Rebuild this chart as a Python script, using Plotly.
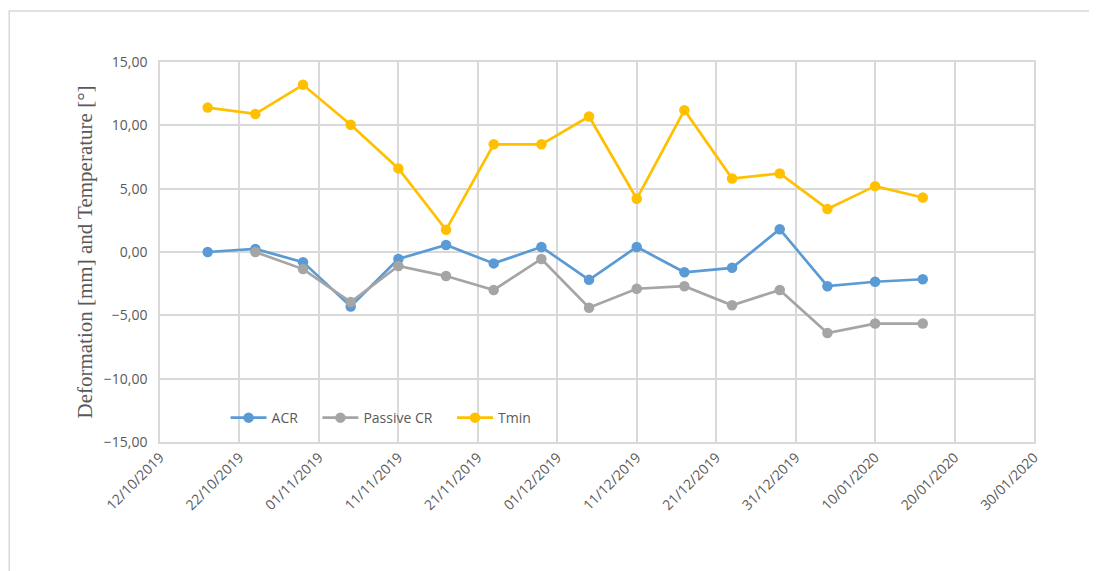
import plotly.graph_objects as go
import pandas as pd

# Measurement dates (every 6 days)
dates = pd.to_datetime([
    '2019-10-18', '2019-10-24', '2019-10-30', '2019-11-05', '2019-11-11', '2019-11-17',
    '2019-11-23', '2019-11-29', '2019-12-05', '2019-12-11', '2019-12-17', '2019-12-23',
    '2019-12-29', '2020-01-04', '2020-01-10', '2020-01-16'
])

acr = [0.0, 0.24, -0.8, -4.3, -0.55, 0.55, -0.9, 0.4, -2.2, 0.4, -1.6, -1.25, 1.8, -2.7, -2.35, -2.15]
passive_cr = [None, 0.0, -1.35, -3.95, -1.1, -1.9, -3.0, -0.55, -4.4, -2.9, -2.7, -4.2, -3.0, -6.4, -5.65, -5.65]
tmin = [11.4, 10.9, 13.2, 10.05, 6.6, 1.75, 8.5, 8.5, 10.7, 4.2, 11.2, 5.8, 6.2, 3.4, 5.2, 4.3]

series = [
    ('ACR', acr, '#5B9BD5'),
    ('Passive CR', passive_cr, '#A5A5A5'),
    ('Tmin', tmin, '#FFC000'),
]

pad = '\u00a0' * 4  # extra room between legend entries

fig = go.Figure()
for name, vals, color in series:
    fig.add_trace(go.Scatter(
        x=dates, y=vals, name=name + pad, mode='lines+markers',
        line=dict(color=color, width=2.7),
        marker=dict(color=color, size=10.5),
    ))

grid = '#d9d9d9'
# page body has an 8px margin, so the figure is shrunk to fit
fig.update_layout(
    width=1089, height=563,
    margin=dict(l=152, r=63, t=54, b=129),
    paper_bgcolor='white', plot_bgcolor='white',
    separators=',.',
    font=dict(family='Open Sans', size=14, color='#595959'),
    showlegend=True,
    legend=dict(orientation='h', x=0.075, y=0.063, xanchor='left', yanchor='middle',
                bgcolor='rgba(0,0,0,0)', font=dict(size=14, color='#595959'),
                itemwidth=36, tracegroupgap=0),
    xaxis=dict(
        type='date', range=['2019-10-12', '2020-01-30'],
        tick0='2019-10-12', dtick=10 * 24 * 3600 * 1000,
        tickformat='%d/%m/%Y', tickangle=-45,
        showgrid=True, gridcolor=grid, gridwidth=1.5,
        showline=True, linecolor=grid, linewidth=1.5, mirror=True,
        ticks='', zeroline=False,
    ),
    yaxis=dict(
        range=[-15, 15], dtick=5, tickformat='.2f',
        showgrid=True, gridcolor=grid, gridwidth=1.5,
        showline=True, linecolor=grid, linewidth=1.5, mirror=True,
        zeroline=False, ticks='', ticklabelstandoff=8,
        title=dict(text='Deformation [mm] and Temperature [°]', standoff=5,
                   font=dict(family='Liberation Serif', size=21, color='#595959')),
    ),
)

# outer chart border
fig.add_shape(type='rect', xref='paper', yref='paper',
              x0=-0.1725, x1=1.0705, y0=-0.4, y1=1.134,
              line=dict(color=grid, width=1.5), fillcolor='rgba(0,0,0,0)', layer='below')

fig.write_html('out.html')
